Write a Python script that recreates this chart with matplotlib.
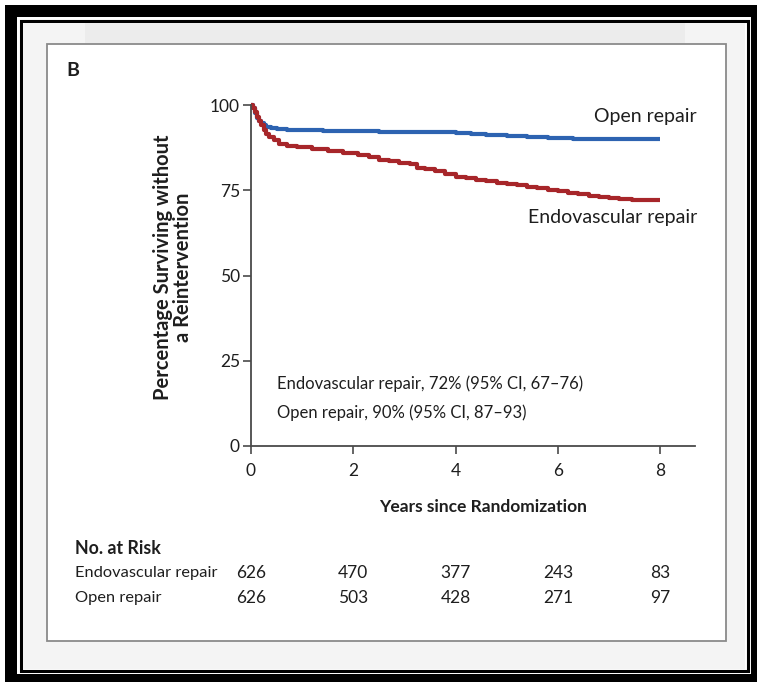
import matplotlib
matplotlib.use("Agg")
import matplotlib.pyplot as plt
from matplotlib.patches import Rectangle
from matplotlib.transforms import blended_transform_factory

plt.rcParams['font.family'] = ['Lato', 'DejaVu Sans']

# Kaplan-Meier estimates (percent surviving without reintervention)
endo_years = [0, 0.04, 0.08, 0.12, 0.16, 0.2, 0.25, 0.3, 0.36, 0.44, 0.55, 0.7, 0.9,
              1.2, 1.5, 1.8, 2.1, 2.3, 2.5, 2.7, 2.9, 3.1, 3.25, 3.4, 3.6, 3.8, 4.0,
              4.2, 4.4, 4.6, 4.8, 5.0, 5.2, 5.4, 5.6, 5.8, 6.0, 6.2, 6.4, 6.6, 6.8,
              7.0, 7.2, 7.45, 8.0]
endo_surv = [100, 99.2, 98, 96.6, 95.2, 94, 92.8, 91.6, 90.6, 89.7, 88.7, 88.0, 87.6,
             87.2, 86.6, 86.0, 85.3, 84.8, 84.0, 83.6, 83.0, 82.6, 81.6, 81.2, 80.5,
             79.8, 79.0, 78.5, 78.0, 77.6, 77.2, 76.8, 76.4, 76.0, 75.6, 75.2, 74.8,
             74.3, 73.8, 73.4, 73.0, 72.7, 72.4, 72.0, 72.0]
open_years = [0, 0.04, 0.08, 0.12, 0.16, 0.2, 0.25, 0.3, 0.4, 0.5, 0.7, 1.0, 1.4, 1.8,
              2.5, 3.0, 3.6, 4.0, 4.3, 4.6, 5.0, 5.4, 5.8, 6.3, 8.0]
open_surv = [100, 99.0, 97.6, 96.3, 95.3, 94.6, 94.0, 93.6, 93.2, 93.0, 92.8, 92.6,
             92.4, 92.3, 92.2, 92.1, 92.0, 91.8, 91.5, 91.2, 90.9, 90.6, 90.3, 90.0, 90.0]

x_ticks = [0, 2, 4, 6, 8]
y_ticks = [0, 25, 50, 75, 100]
risk_groups = ["Endovascular repair", "Open repair"]
risk_endo = [626, 470, 377, 243, 83]
risk_open = [626, 503, 428, 271, 97]
ci_lines = ["Endovascular repair, 72% (95% CI, 67\u201376)",
            "Open repair, 90% (95% CI, 87\u201393)"]

W, H = 757, 685
fig = plt.figure(figsize=(W / 100, H / 100), dpi=100)
fig.patch.set_facecolor("white")


def px_rect(x0, y0, x1, y1, **kw):
    """Rectangle given in pixel coordinates (origin top-left), behind the axes."""
    r = Rectangle((x0 / W, 1 - y1 / H), (x1 - x0) / W, (y1 - y0) / H,
                  transform=fig.transFigure, zorder=-10, **kw)
    fig.patches.append(r)


# decorative double frame
px_rect(5, 5, 757, 682, facecolor="black", edgecolor="none")
px_rect(17, 17, 751, 674, facecolor="white", edgecolor="none")
px_rect(21, 21, 747.5, 671, facecolor="none", edgecolor="black", linewidth=2.2)
px_rect(23, 23, 745, 669, facecolor="#f4f4f4", edgecolor="none")
px_rect(85, 23, 685, 43, facecolor="#ececec", edgecolor="none")
px_rect(47, 44, 726, 641, facecolor="white", edgecolor="#8a8a8a", linewidth=1.3)

# plotting area
ax = fig.add_axes([251 / W, 1 - 446 / H, (695 - 251) / W, (446 - 105) / H])
ax.set_facecolor("none")
ax.set_xlim(0, 8.68)
ax.set_ylim(0, 100)

blue = "#2d63b1"
red = "#a7262a"
ax.plot(open_years, open_surv, drawstyle="steps-post", color=blue, lw=3.0,
        clip_on=False, solid_capstyle="butt")
ax.plot(endo_years, endo_surv, drawstyle="steps-post", color=red, lw=3.0,
        clip_on=False, solid_capstyle="butt")

for s in ["top", "right"]:
    ax.spines[s].set_visible(False)
for s in ["left", "bottom"]:
    ax.spines[s].set_color("#4a4a4a")
    ax.spines[s].set_linewidth(1.3)

tick_font = 12.5
text_col = "#1e1e1e"
ax.set_xticks(x_ticks)
ax.set_yticks(y_ticks)
ax.tick_params(axis="both", direction="out", length=6, width=1.2, color="#4a4a4a",
               labelsize=tick_font, labelcolor=text_col)
ax.tick_params(axis="x", pad=6)
ax.tick_params(axis="y", pad=2)

ax.text(8.72, 96.5, "Open repair", ha="right", va="center", fontsize=14,
        color=text_col, clip_on=False)
ax.text(8.72, 66.9, "Endovascular repair", ha="right", va="center",
        fontsize=14, color=text_col, clip_on=False)
ax.text(0.51, 18.2, ci_lines[0], ha="left", va="center", fontsize=12,
        color=text_col)
ax.text(0.51, 9.7, ci_lines[1], ha="left", va="center", fontsize=12,
        color=text_col)

fig.text(173 / W, 1 - 267 / H, "Percentage Surviving without\na Reintervention",
         rotation=90, ha="center", va="center", fontsize=14.5, fontweight="bold",
         color=text_col, linespacing=1.05, multialignment="center")
fig.text(483 / W, 1 - 507 / H, "Years since Randomization", ha="center",
         va="center", fontsize=12.5, fontweight="bold", color=text_col)
fig.text(73 / W, 1 - 71 / H, "B", ha="center", va="center", fontsize=14,
         fontweight="bold", color=text_col)

# number-at-risk table, columns aligned with the x ticks
fig.text(75 / W, 1 - 548 / H, "No. at Risk", ha="left", va="center", fontsize=12.8,
         fontweight="bold", color=text_col)
trans = blended_transform_factory(ax.transData, fig.transFigure)
row_y = [1 - 573 / H, 1 - 598 / H]
for name, counts, yy in zip(risk_groups, [risk_endo, risk_open], row_y):
    fig.text(75 / W, yy, name, ha="left", va="center", fontsize=11.8,
             color=text_col)
    for xt, n in zip(x_ticks, counts):
        ax.text(xt, yy, str(n), transform=trans, ha="center", va="center",
                fontsize=12.5, color=text_col, clip_on=False)

fig.savefig("out.png", dpi=100, facecolor=fig.get_facecolor())
